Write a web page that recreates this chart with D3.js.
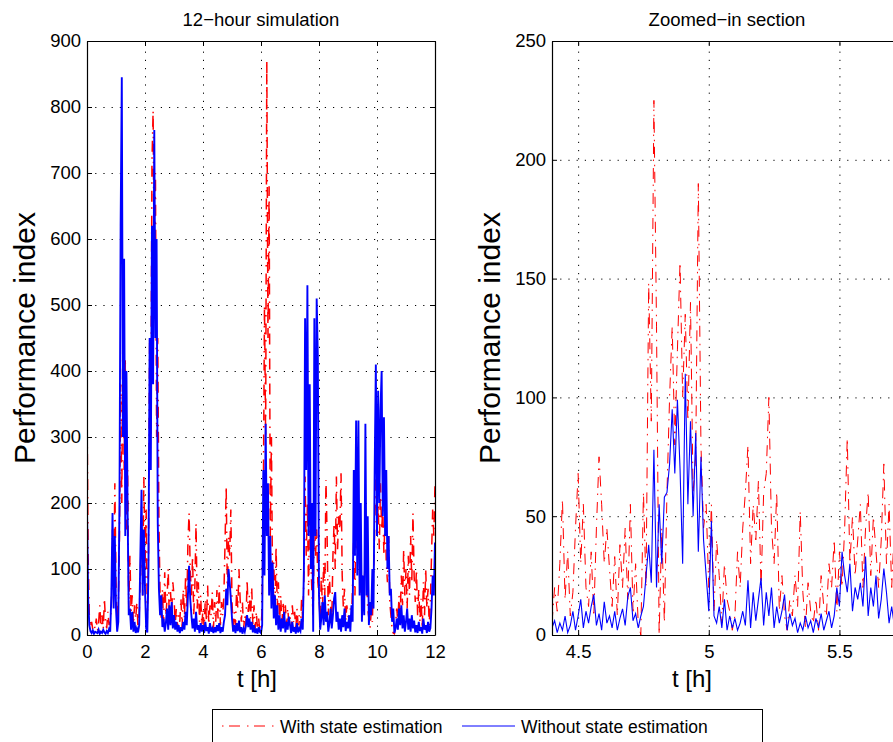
<!DOCTYPE html>
<html>
<head>
<meta charset="utf-8">
<script src="https://cdn.jsdelivr.net/npm/d3@7"></script>
<style>
  body { margin: 0; background: #fff; }
  svg { display: block; font-family: "Liberation Sans", Arial, Helvetica, sans-serif; }
  .axis text { font-size: 18.5px; fill: #000; }
</style>
</head>
<body>
<div id="chart"></div>
<script>
// 12-hour run, one value every 0.04 h (each row = one hour)
const fullStep = 0.04;
const fullRed = [
  350, 120, 30, 12, 20, 8, 15, 10, 25, 6, 18, 45, 12, 30, 8, 55, 20, 10, 35, 15, 25, 40, 160, 60, 230,
  80, 20, 45, 150, 380, 200, 490, 250, 420, 160, 250, 40, 120, 35, 60, 15, 45, 25, 50, 10, 30, 90, 180, 60, 240,
  100, 190, 25, 120, 450, 300, 715, 795, 500, 700, 300, 450, 170, 60, 25, 70, 15, 95, 30, 55, 100, 20, 65, 35, 80,
  60, 15, 40, 10, 30, 20, 55, 12, 70, 25, 90, 40, 140, 185, 100, 60, 120, 30, 75, 170, 40, 80, 20, 60, 15,
  40, 10, 55, 20, 75, 15, 45, 30, 65, 10, 50, 20, 68, 25, 75, 15, 50, 30, 60, 140, 225, 60, 150, 120, 190,
  50, 10, 35, 15, 70, 40, 100, 55, 20, 50, 8, 30, 15, 83, 35, 60, 25, 72, 15, 45, 10, 35, 8, 25, 5,
  10, 40, 200, 500, 300, 870, 450, 680, 150, 300, 60, 110, 30, 135, 40, 80, 20, 60, 15, 50, 25, 45, 10, 40, 20,
  30, 10, 45, 20, 35, 8, 40, 15, 30, 10, 55, 20, 90, 240, 120, 200, 60, 220, 110, 60, 30, 200, 120, 160, 80,
  60, 20, 90, 40, 110, 60, 235, 150, 30, 90, 45, 20, 120, 170, 100, 240, 130, 180, 160, 245, 90, 40, 70, 20, 45,
  30, 15, 40, 20, 80, 150, 60, 190, 130, 160, 100, 60, 90, 40, 80, 120, 90, 40, 25, 10, 35, 20, 90, 160, 265,
  150, 200, 130, 230, 160, 190, 120, 190, 110, 80, 150, 50, 30, 10, 3, 2, 15, 40, 20, 60, 30, 90, 45, 130, 60,
  100, 40, 120, 60, 150, 80, 185, 90, 50, 100, 30, 70, 20, 55, 10, 80, 30, 100, 40, 70, 15, 50, 120, 190, 150, 230
];
const fullBlue = [
  190, 55, 15, 6, 3, 7, 2, 5, 4, 3, 8, 2, 5, 3, 8, 4, 2, 6, 3, 9, 5, 60, 185, 40, 150,
  40, 5, 20, 200, 620, 845, 300, 570, 150, 400, 190, 30, 40, 8, 35, 5, 20, 3, 10, 4, 15, 120, 220, 60, 160,
  70, 10, 4, 100, 450, 250, 620, 380, 765, 450, 600, 170, 70, 30, 60, 12, 25, 5, 18, 40, 8, 45, 15, 50, 10,
  30, 8, 20, 5, 15, 3, 12, 6, 20, 8, 35, 15, 60, 105, 55, 30, 10, 25, 5, 35, 8, 15, 3, 18, 5,
  15, 3, 20, 6, 12, 2, 18, 5, 10, 3, 12, 4, 15, 6, 18, 3, 12, 5, 20, 30, 70, 45, 100, 80, 55,
  25, 5, 15, 3, 18, 6, 22, 4, 12, 2, 10, 5, 14, 30, 12, 25, 8, 20, 4, 15, 3, 10, 2, 12, 5,
  3, 15, 250, 90, 320, 150, 230, 60, 150, 40, 110, 25, 60, 15, 45, 8, 30, 5, 25, 10, 35, 4, 20, 8, 28,
  15, 3, 20, 5, 12, 2, 18, 4, 10, 6, 25, 8, 100, 480, 250, 530, 150, 380, 100, 200, 5, 480, 150, 510, 420,
  60, 8, 25, 50, 15, 60, 20, 35, 5, 18, 40, 10, 30, 55, 65, 20, 35, 8, 25, 5, 30, 12, 40, 6, 20,
  10, 30, 5, 45, 20, 250, 120, 325, 90, 325, 60, 200, 20, 90, 30, 320, 60, 180, 15, 50, 30, 100, 40, 250, 410,
  150, 370, 200, 340, 400, 180, 330, 150, 250, 100, 150, 60, 70, 20, 40, 3, 10, 25, 8, 40, 15, 45, 10, 30, 5,
  20, 40, 8, 25, 5, 30, 10, 22, 4, 15, 3, 20, 6, 12, 2, 25, 8, 15, 3, 20, 5, 10, 40, 90, 60, 140
];

// zoomed section from 4.4 h, one value every 0.01 h (each row = 0.1 h)
const zoomStart = 4.4;
const zoomStep = 0.01;
const zoomRed = [
  5, 20, 10, 30, 57, 15, 35, 8, 18, 45,
  68, 30, 55, 20, 12, 35, 8, 45, 75, 55,
  30, 45, 28, 12, 33, 8, 38, 20, 45, 15,
  55, 10, 30, 5, 0, 60, 20, 148, 90, 225,
  130, 0, 45, 5, 60, 100, 130, 80, 120, 157,
  100, 135, 90, 140, 60, 75, 190, 80, 45, 55,
  20, 55, 10, 40, 25, 5, 30, 15, 10, 2,
  8, 35, 20, 45, 60, 80, 30, 55, 40, 65,
  20, 60, 68, 100, 45, 30, 60, 10, 25, 8,
  2, 15, 8, 25, 12, 52, 18, 3, 22, 10,
  5, 15, 2, 25, 12, 8, 30, 20, 40, 10,
  35, 20, 45, 83, 30, 50, 25, 40, 55, 20,
  45, 60, 25, 50, 35, 20, 40, 72, 30, 55,
  20, 45, 15, 3
];
const zoomBlue = [
  3, 6, 1, 5, 2, 8, 1, 4, 10, 2,
  8, 15, 3, 10, 5, 12, 17, 4, 9, 2,
  14, 5, 8, 3, 10, 2, 7, 11, 4, 16,
  20, 6, 9, 3, 8, 12, 25, 38, 22, 78,
  20, 55, 30, 58, 60, 72, 95, 68, 99, 70,
  30, 110, 55, 90, 50, 85, 35, 75, 40, 25,
  10, 48, 8, 5, 12, 3, 15, 2, 8, 3,
  7, 2, 5, 10, 4, 23, 3, 18, 6, 15,
  24, 4, 18, 8, 20, 3, 12, 5, 10, 17,
  2, 9, 4, 7, 1, 5, 2, 8, 3, 6,
  1, 7, 3, 9, 2, 6, 10, 3, 8, 20,
  12, 35, 25, 18, 30, 10, 20, 15, 22, 12,
  33, 8, 20, 12, 25, 7, 15, 28, 18, 5,
  12, 4, 8, 3
];

const fullXTicks = [0, 2, 4, 6, 8, 10, 12];
const fullYTicks = [0, 100, 200, 300, 400, 500, 600, 700, 800, 900];
const zoomXTicks = [4.5, 5, 5.5];
const zoomYTicks = [0, 50, 100, 150, 200, 250];
const seriesNames = ['With state estimation', 'Without state estimation'];
const panelTitles = ['12\u2212hour simulation', 'Zoomed\u2212in section'];

const redDash = '11,7,1.5,5.5';

const svg = d3.select('#chart')
    .append('svg')
    .attr('width', 893)
    .attr('height', 742);

function drawPanel(p) {
    const x = d3.scaleLinear().domain(p.xDomain).range([0, p.width]);
    const y = d3.scaleLinear().domain(p.yDomain).range([p.height, 0]);

    const g = svg.append('g')
        .attr('transform', `translate(${p.left},${p.top})`);

    g.append('clipPath')
        .attr('id', 'clip-' + p.id)
        .append('rect')
        .attr('width', p.width)
        .attr('height', p.height);

    // dotted grid
    g.append('g')
        .attr('class', 'grid')
        .attr('transform', `translate(0,${p.height})`)
        .call(d3.axisBottom(x).tickValues(p.xTicks).tickSize(-p.height).tickFormat(''));
    g.append('g')
        .attr('class', 'grid')
        .call(d3.axisLeft(y).tickValues(p.yTicks).tickSize(-p.width).tickFormat(''));
    g.selectAll('.grid .domain').remove();
    g.selectAll('.grid line')
        .attr('stroke', '#000')
        .attr('stroke-width', 1)
        .attr('stroke-dasharray', '1.2,7');

    // the two series (red under blue)
    const line = d3.line()
        .x(d => x(d.t))
        .y(d => y(d.v));
    const plot = g.append('g').attr('clip-path', `url(#clip-${p.id})`);

    plot.append('path')
        .datum(p.red)
        .attr('d', line)
        .attr('fill', 'none')
        .attr('stroke', '#ff0000')
        .attr('stroke-width', p.redWidth)
        .attr('stroke-dasharray', redDash);

    plot.append('path')
        .datum(p.blue)
        .attr('d', line)
        .attr('fill', 'none')
        .attr('stroke', '#0000ff')
        .attr('stroke-width', p.blueWidth);

    // box with inward ticks on all four sides
    g.append('g')
        .attr('class', 'axis')
        .attr('transform', `translate(0,${p.height})`)
        .call(d3.axisBottom(x).tickValues(p.xTicks).tickSize(-5).tickSizeOuter(0)
            .tickPadding(10).tickFormat(d => String(d)));
    g.append('g')
        .attr('class', 'axis')
        .call(d3.axisTop(x).tickValues(p.xTicks).tickSize(-5).tickSizeOuter(0).tickFormat(''));
    g.append('g')
        .attr('class', 'axis')
        .call(d3.axisLeft(y).tickValues(p.yTicks).tickSize(-5).tickSizeOuter(0)
            .tickPadding(6).tickFormat(d => String(d)));
    g.append('g')
        .attr('class', 'axis')
        .attr('transform', `translate(${p.width},0)`)
        .call(d3.axisRight(y).tickValues(p.yTicks).tickSize(-5).tickSizeOuter(0).tickFormat(''));
    g.selectAll('.axis .domain').attr('stroke', '#000').attr('stroke-width', 1.2);
    g.selectAll('.axis .tick line').attr('stroke', '#000');
    g.selectAll('.axis text').attr('font-family', null);

    // title and axis labels
    svg.append('text')
        .attr('x', p.titleX)
        .attr('y', 26)
        .attr('text-anchor', 'middle')
        .style('font-size', '18.5px')
        .text(p.title);

    svg.append('text')
        .attr('x', p.xLabelX)
        .attr('y', 687)
        .attr('text-anchor', 'middle')
        .style('font-size', '24px')
        .text('t [h]');

    svg.append('text')
        .attr('transform', `translate(${p.yLabelX},338) rotate(-90)`)
        .attr('text-anchor', 'middle')
        .style('font-size', '30px')
        .text('Performance index');
}

drawPanel({
    id: 'full',
    left: 87, top: 41, width: 348, height: 594,
    xDomain: [0, 12], yDomain: [0, 900],
    xTicks: fullXTicks, yTicks: fullYTicks,
    red: fullRed.map((v, i) => ({ t: i * fullStep, v: v })),
    blue: fullBlue.map((v, i) => ({ t: i * fullStep, v: v })),
    redWidth: 1.5, blueWidth: 1.9,
    title: panelTitles[0], titleX: 261, xLabelX: 257, yLabelX: 35
});

drawPanel({
    id: 'zoom',
    left: 552, top: 41, width: 348, height: 594,
    xDomain: [4.4, 4.4 + 348 / 261.3], yDomain: [0, 250],
    xTicks: zoomXTicks, yTicks: zoomYTicks,
    red: zoomRed.map((v, i) => ({ t: zoomStart + i * zoomStep, v: v })),
    blue: zoomBlue.map((v, i) => ({ t: zoomStart + i * zoomStep, v: v })),
    redWidth: 1, blueWidth: 1.1,
    title: panelTitles[1], titleX: 727, xLabelX: 692, yLabelX: 500
});

// legend below the panels
const legend = svg.append('g');
legend.append('rect')
    .attr('x', 212.5)
    .attr('y', 709.5)
    .attr('width', 550)
    .attr('height', 50)
    .attr('fill', '#fff')
    .attr('stroke', '#000')
    .attr('stroke-width', 1);

const legendItems = [
    { name: seriesNames[0], color: '#ff0000', dash: redDash, x0: 222, x1: 274, tx: 280 },
    { name: seriesNames[1], color: '#0000ff', dash: null, x0: 462, x1: 515, tx: 521 }
];
legendItems.forEach(d => {
    legend.append('line')
        .attr('x1', d.x0).attr('x2', d.x1)
        .attr('y1', 726).attr('y2', 726)
        .attr('stroke', d.color)
        .attr('stroke-width', 1)
        .attr('stroke-dasharray', d.dash)
        .attr('stroke-dashoffset', d.dash ? 18 : null);
    legend.append('text')
        .attr('x', d.tx)
        .attr('y', 733)
        .style('font-size', '17.5px')
        .text(d.name);
});
</script>
</body>
</html>
